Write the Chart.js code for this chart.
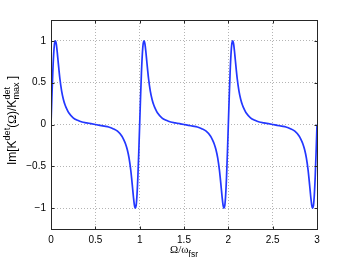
<!DOCTYPE html>
<html>
<head>
<meta charset="utf-8">
<script src="https://cdn.jsdelivr.net/npm/chart.js@4.4.0/dist/chart.umd.min.js"></script>
<style>
  html, body { margin: 0; padding: 0; background: #fff; }
  canvas { display: block; }
</style>
</head>
<body>
<canvas id="plot" width="350" height="264"></canvas>
<script>
// Omega / omega_fsr, three free spectral ranges
const omega = [
  0, 0.01, 0.02, 0.03, 0.04, 0.05, 0.06, 0.07, 0.08, 0.09, 0.10, 0.12, 0.14, 0.16, 0.18, 0.20,
  0.25, 0.30, 0.35, 0.40, 0.45, 0.50, 0.55, 0.60, 0.65, 0.70, 0.75, 0.80, 0.82, 0.84, 0.86, 0.88,
  0.90, 0.91, 0.92, 0.93, 0.94, 0.95, 0.96, 0.97, 0.98, 0.99,
  1, 1.01, 1.02, 1.03, 1.04, 1.05, 1.06, 1.07, 1.08, 1.09, 1.10, 1.12, 1.14, 1.16, 1.18, 1.20,
  1.25, 1.30, 1.35, 1.40, 1.45, 1.50, 1.55, 1.60, 1.65, 1.70, 1.75, 1.80, 1.82, 1.84, 1.86, 1.88,
  1.90, 1.91, 1.92, 1.93, 1.94, 1.95, 1.96, 1.97, 1.98, 1.99,
  2, 2.01, 2.02, 2.03, 2.04, 2.05, 2.06, 2.07, 2.08, 2.09, 2.10, 2.12, 2.14, 2.16, 2.18, 2.20,
  2.25, 2.30, 2.35, 2.40, 2.45, 2.50, 2.55, 2.60, 2.65, 2.70, 2.75, 2.80, 2.82, 2.84, 2.86, 2.88,
  2.90, 2.91, 2.92, 2.93, 2.94, 2.95, 2.96, 2.97, 2.98, 2.99,
  3
];
// Im[K_det(Omega)/K_det_max]
const imK = [
  0, 0.33, 0.62, 0.84, 0.97, 1.00, 0.96, 0.87, 0.76, 0.65, 0.55, 0.40, 0.30, 0.23, 0.18, 0.14,
  0.08, 0.05, 0.03, 0.02, 0.01, 0, -0.01, -0.02, -0.03, -0.05, -0.08, -0.14, -0.18, -0.23, -0.30, -0.40,
  -0.55, -0.65, -0.76, -0.87, -0.96, -1.00, -0.97, -0.84, -0.62, -0.33,
  0, 0.33, 0.62, 0.84, 0.97, 1.00, 0.96, 0.87, 0.76, 0.65, 0.55, 0.40, 0.30, 0.23, 0.18, 0.14,
  0.08, 0.05, 0.03, 0.02, 0.01, 0, -0.01, -0.02, -0.03, -0.05, -0.08, -0.14, -0.18, -0.23, -0.30, -0.40,
  -0.55, -0.65, -0.76, -0.87, -0.96, -1.00, -0.97, -0.84, -0.62, -0.33,
  0, 0.33, 0.62, 0.84, 0.97, 1.00, 0.96, 0.87, 0.76, 0.65, 0.55, 0.40, 0.30, 0.23, 0.18, 0.14,
  0.08, 0.05, 0.03, 0.02, 0.01, 0, -0.01, -0.02, -0.03, -0.05, -0.08, -0.14, -0.18, -0.23, -0.30, -0.40,
  -0.55, -0.65, -0.76, -0.87, -0.96, -1.00, -0.97, -0.84, -0.62, -0.33,
  0
];
const xTicks = [0, 0.5, 1, 1.5, 2, 2.5, 3];
const yTicks = [-1, -0.5, 0, 0.5, 1];

const SANS = '"Liberation Sans", Arial, sans-serif';
const SERIF = '"Liberation Serif", "Times New Roman", serif';

function tickLabel(v) {
  return String(v).replace('-', '\u2212');
}

// draws a row of text pieces centred on 0, baseline at y = 0
function drawPieces(ctx, pieces) {
  let total = 0;
  for (const p of pieces) {
    ctx.font = p.font;
    p.w = p.stack ? Math.max(ctx.measureText(p.stack[0]).width, ctx.measureText(p.stack[1]).width) : ctx.measureText(p.t).width;
    total += p.w;
  }
  let x = -total / 2;
  for (const p of pieces) {
    ctx.font = p.font;
    if (p.stack) {
      ctx.fillText(p.stack[0], x, -6);
      ctx.fillText(p.stack[1], x, 3);
    } else {
      ctx.fillText(p.t, x, p.dy || 0);
    }
    x += p.w;
  }
}

const matlabFrame = {
  id: 'matlabFrame',
  afterDraw(chart) {
    const {ctx, chartArea: a, scales} = chart;
    const L = Math.round(a.left) + 0.5, R = Math.round(a.right) + 0.5;
    const T = Math.round(a.top) + 0.5, B = Math.round(a.bottom) + 0.5;
    ctx.save();
    ctx.strokeStyle = '#262626';
    ctx.lineWidth = 1;
    ctx.strokeRect(L, T, R - L, B - T);
    ctx.beginPath();
    for (const v of xTicks) {
      const px = Math.round(scales.x.getPixelForValue(v)) + 0.5;
      ctx.moveTo(px, B); ctx.lineTo(px, B - 3);
      ctx.moveTo(px, T); ctx.lineTo(px, T + 3);
    }
    for (const v of yTicks) {
      const py = Math.round(scales.y.getPixelForValue(v)) + 0.5;
      ctx.moveTo(L, py); ctx.lineTo(L + 3, py);
      ctx.moveTo(R, py); ctx.lineTo(R - 3, py);
    }
    ctx.stroke();

    ctx.fillStyle = '#000';
    ctx.textBaseline = 'alphabetic';
    ctx.textAlign = 'left';

    // x title: Omega / omega_fsr
    ctx.save();
    ctx.translate((a.left + a.right) / 2, 253);
    drawPieces(ctx, [
      {t: '\u03A9/\u03C9', font: '11px ' + SERIF},
      {t: 'fsr', font: '8.5px ' + SANS, dy: 4}
    ]);
    ctx.restore();

    // y title: Im[K^det(Omega)/K^det_max]
    const main = '12px ' + SANS, greek = '12px ' + SERIF, small = '9px ' + SANS;
    ctx.save();
    ctx.translate(16, (a.top + a.bottom) / 2 - 4);
    ctx.rotate(-Math.PI / 2);
    drawPieces(ctx, [
      {t: 'Im[K', font: main},
      {t: 'det', font: small, dy: -6},
      {t: '(', font: main},
      {t: '\u03A9', font: greek},
      {t: ')/K', font: main},
      {stack: ['det', 'max'], font: small},
      {t: ' ]', font: main}
    ]);
    ctx.restore();
    ctx.restore();
  }
};

const points = omega.map((x, i) => ({x: x, y: imK[i]}));

new Chart(document.getElementById('plot'), {
  type: 'line',
  data: {
    datasets: [{
      data: points,
      borderColor: 'rgb(35, 55, 255)',
      borderWidth: 1.7,
      pointRadius: 0,
      fill: false,
      cubicInterpolationMode: 'monotone'
    }]
  },
  options: {
    responsive: false,
    animation: false,
    layout: {padding: {top: 20, right: 33, left: 0, bottom: 0}},
    plugins: {legend: {display: false}, tooltip: {enabled: false}},
    scales: {
      x: {
        type: 'linear',
        min: 0,
        max: 3,
        afterBuildTicks: s => { s.ticks = xTicks.map(v => ({value: v})); },
        afterFit: s => { s.height = 35; },
        ticks: {callback: tickLabel, color: '#000', padding: 5, maxRotation: 0,
                font: {family: SANS, size: 10}},
        grid: {color: '#b4b4b4', lineWidth: 1, drawTicks: false},
        border: {display: false, dash: [1, 2]}
      },
      y: {
        type: 'linear',
        min: -1.25,
        max: 1.25,
        afterBuildTicks: s => { s.ticks = yTicks.map(v => ({value: v})); },
        afterFit: s => { s.width = 51; },
        ticks: {callback: tickLabel, color: '#000', padding: 5,
                font: {family: SANS, size: 10}},
        grid: {color: '#b4b4b4', lineWidth: 1, drawTicks: false},
        border: {display: false, dash: [1, 2]}
      }
    }
  },
  plugins: [matlabFrame]
});
</script>
</body>
</html>
